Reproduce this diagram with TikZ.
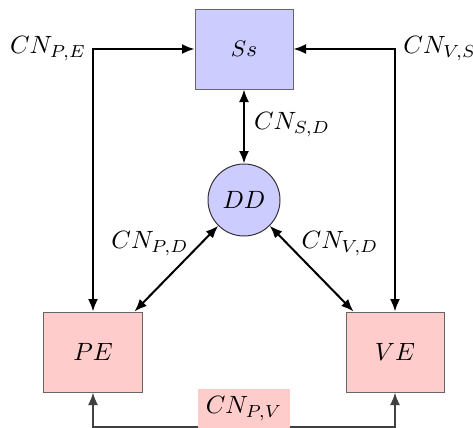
\documentclass[tikz,border=0pt]{standalone}
\usetikzlibrary{arrows.meta,calc}
\begin{document}
\begin{tikzpicture}[x=0.4pt,y=-0.4pt,
  boxb/.style={draw=gray!80!black, fill=blue!20, minimum width=39.2pt, minimum height=32pt, inner sep=0pt, line width=0.4pt},
  boxr/.style={draw=gray!80!black, fill=red!20, minimum width=39.2pt, minimum height=32pt, inner sep=0pt, line width=0.4pt},
  circ/.style={draw=black!80, fill=blue!20, circle, minimum size=28.8pt, inner sep=0pt, line width=0.4pt},
  conn/.style={line width=0.8pt, {Latex[length=5pt,width=4pt]}-{Latex[length=5pt,width=4pt]}},
  lbl/.style={inner sep=1pt}]
\useasboundingbox (0,0) rectangle (473,427);
\node[boxb] (Ss) at (244,49) {\small $Ss$};
\node[circ] (DD) at (244,200) {$DD$};
\node[boxr] (PE) at (93,352) {$PE$};
\node[boxr] (VE) at (395,352) {$VE$};
\draw[conn] (Ss.west) -| (PE.north);
\draw[conn] (Ss.east) -| (VE.north);
\draw[conn] (Ss.south) -- (DD.north);
\draw[conn] (DD.225) -- ($(PE.north east)+(-8,0)$);
\draw[conn] (DD.315) -- ($(VE.north west)+(8,0)$);
\draw[conn, draw=black!75] (PE.south) -- ++(0,34) -| (VE.south);
\node[lbl] (lPE) at (48,49) {$CN_{P,E}$};
\node[lbl] (lVS) at (440,49) {$CN_{V,S}$};
\node[lbl] (lSD) at (292,125) {$CN_{S,D}$};
\node[lbl] (lPD) at (150,244) {$CN_{P,D}$};
\node[lbl] (lVD) at (340,244) {$CN_{V,D}$};
\node[fill=red!20] (lPV) at (244,409) {$CN_{P,V}$};
\end{tikzpicture}
\end{document}
